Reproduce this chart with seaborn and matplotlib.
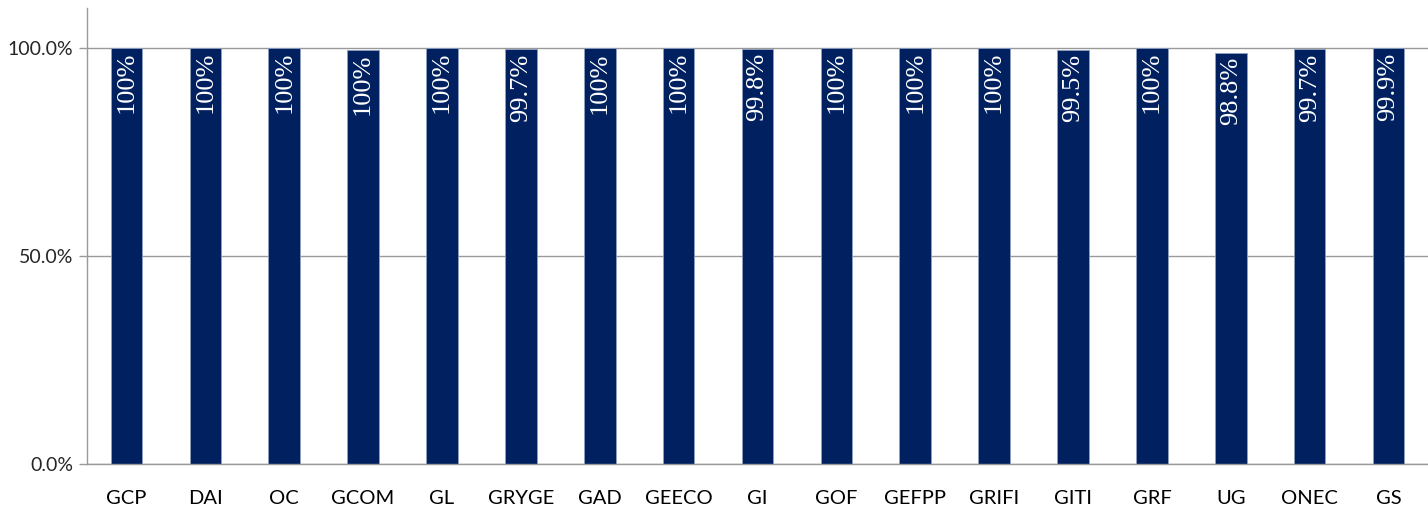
import numpy as np
import pandas as pd
import matplotlib
matplotlib.use("Agg")
import matplotlib.pyplot as plt
import seaborn as sns
from matplotlib.ticker import PercentFormatter, FixedLocator

categories = ["GCP", "DAI", "OC", "GCOM", "GL", "GRYGE", "GAD", "GEECO", "GI",
              "GOF", "GEFPP", "GRIFI", "GITI", "GRF", "UG", "ONEC", "GS"]
values = [100.0, 100.0, 100.0, 99.6, 100.0, 99.7, 99.9, 100.0, 99.8,
          100.0, 100.0, 100.0, 99.5, 100.0, 98.8, 99.7, 99.9]
labels = ["100%", "100%", "100%", "100%", "100%", "99.7%", "100%", "100%", "99.8%",
          "100%", "100%", "100%", "99.5%", "100%", "98.8%", "99.7%", "99.9%"]

df = pd.DataFrame({"category": categories, "value": values})

sns.set_style("white")
plt.rcParams["font.family"] = ["Lato", "DejaVu Sans"]

fig = plt.figure(figsize=(14.28, 5.14), dpi=100)
ax = fig.add_axes([87 / 1428, 50 / 514, 1341 / 1428, 456 / 514])

sns.barplot(data=df, x="category", y="value", color="#002060", width=0.4,
            edgecolor="#8fa0c0", linewidth=0.6, saturation=1, ax=ax)

for i, (v, lab) in enumerate(zip(values, labels)):
    ax.text(i, v - 1.0, lab, rotation=90, ha="center", va="top", color="white",
            fontsize=19, family=["Liberation Serif", "DejaVu Serif"])

ax.set_ylim(0, 109.6)
ax.set_xlim(-0.5, len(categories) - 0.5)
ax.set_yticks([0, 50, 100])
ax.yaxis.set_major_formatter(PercentFormatter(decimals=1))
ax.yaxis.grid(True, color="#999999", linewidth=1)
ax.set_axisbelow(True)

ax.xaxis.set_minor_locator(FixedLocator(np.arange(-0.5, len(categories), 1)))
ax.tick_params(axis="x", which="major", length=0, labelsize=14.5, pad=19, colors="black")
ax.tick_params(axis="x", which="minor", length=6, width=1, color="#999999", direction="out")
ax.tick_params(axis="y", length=6, width=1, color="#999999", labelsize=14, pad=4, left=True)

for s in ["top", "right"]:
    ax.spines[s].set_visible(False)
for s in ["left", "bottom"]:
    ax.spines[s].set_color("#999999")
    ax.spines[s].set_linewidth(1)

ax.set_xlabel("")
ax.set_ylabel("")

fig.savefig("out.png", dpi=100)
